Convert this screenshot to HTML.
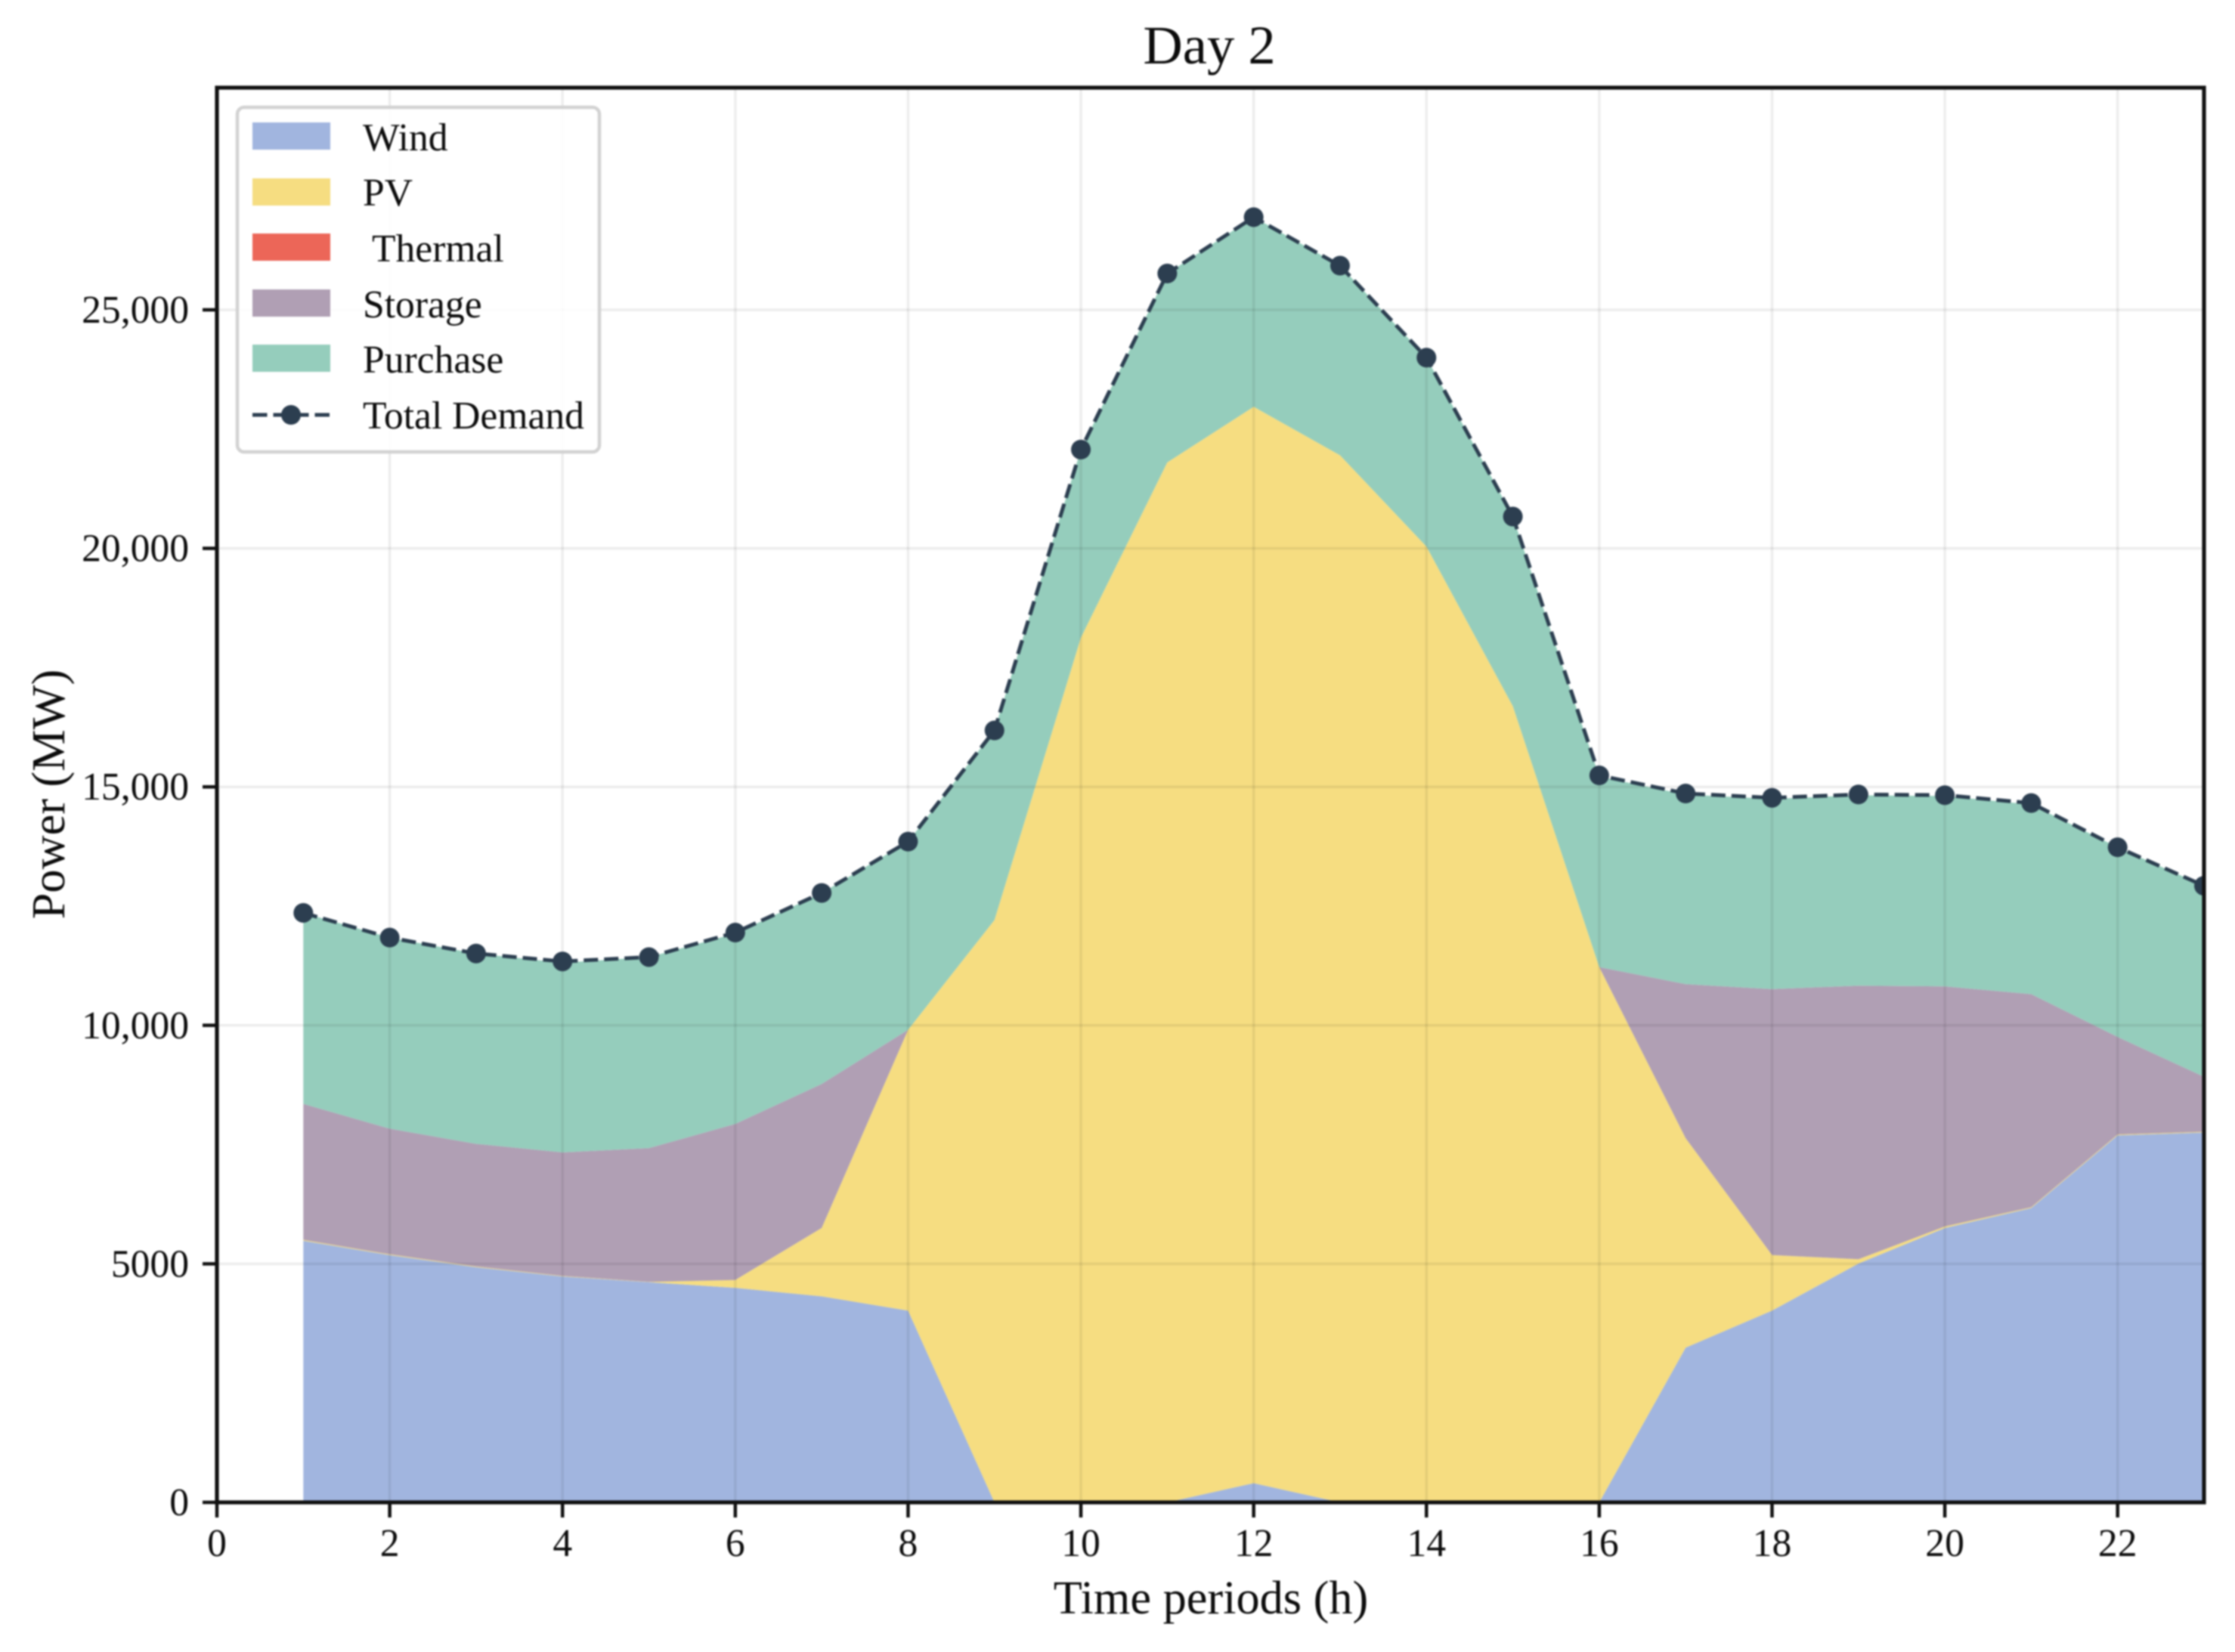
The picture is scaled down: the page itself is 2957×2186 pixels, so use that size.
<!DOCTYPE html>
<html lang="en">
<head>
<meta charset="utf-8">
<title>Day 2</title>
<style>
html,body{margin:0;padding:0;background:#fff;}
svg{display:block;filter:blur(1px);}
text{font-family:"Liberation Serif","Times New Roman",serif;fill:#0c0c0c;white-space:pre;}
</style>
</head>
<body>
<svg id="chart" xmlns="http://www.w3.org/2000/svg" width="2957" height="2186" viewBox="0 0 2957 2186">
<defs><clipPath id="plot-clip"><rect x="287" y="116" width="2629" height="1872"/></clipPath></defs>
<rect x="0" y="0" width="2957" height="2186" fill="#ffffff"/>
<g id="bands" clip-path="url(#plot-clip)"></g>
<g id="grid"></g>
<g id="demand" clip-path="url(#plot-clip)"></g>
<g id="ticks"></g>
<rect x="287" y="116" width="2629" height="1872" fill="none" stroke="#111111" stroke-width="5.2"/>
<text x="1600" y="84" font-size="72.5" text-anchor="middle">Day 2</text>
<text x="1602" y="2135" font-size="62.3" text-anchor="middle">Time periods (h)</text>
<text x="0" y="0" font-size="62.3" text-anchor="middle" transform="translate(85 1051) rotate(-90)">Power (MW)</text>
<g>
<rect x="314" y="142" width="479" height="456" rx="9" fill="#ffffff" fill-opacity="0.85" stroke="#d2d2d2" stroke-width="4.5"/>
<rect x="334" y="162" width="103" height="36" fill="#a1b5df"/>
<text x="480" y="199" font-size="51.6">Wind</text>
<rect x="334" y="236" width="103" height="36" fill="#f6dd81"/>
<text x="480" y="272" font-size="51.6">PV</text>
<rect x="334" y="309" width="103" height="36" fill="#ec6658"/>
<text x="480" y="346" font-size="51.6"> Thermal</text>
<rect x="334" y="383" width="103" height="36" fill="#b09fb4"/>
<text x="480" y="420" font-size="51.6">Storage</text>
<rect x="334" y="456" width="103" height="36" fill="#95cdbc"/>
<text x="480" y="493" font-size="51.6">Purchase</text>
<line x1="334" y1="549" x2="437" y2="549" stroke="#2c3e50" stroke-width="5" stroke-dasharray="19.5 8"/>
<circle cx="385" cy="549" r="13" fill="#2c3e50"/>
<text x="480" y="567" font-size="51.6">Total Demand</text>
</g>
</svg>
<script>
const hours = [1,2,3,4,5,6,7,8,9,10,11,12,13,14,15,16,17,18,19,20,21,22,23];
const wind = [5484,5185,4930,4737,4617,4498,4318,4020,0,0,0,403,0,0,0,0,3243,4020,5006,5753,6171,7695,7755];
const pv = [20,15,15,10,5,164,1435,5887,12208,18126,21802,22565,21951,20038,16691,11222,4392,1165,90,30,15,15,15];
const thermal = [0,0,0,0,0,0,0,0,0,0,0,0,0,0,0,0,0,0,0,0,0,0,0];
const storage = [2849,2635,2571,2590,2804,3272,3018,0,0,0,0,0,0,0,0,0,3228,5574,5737,5035,4468,2048,1151];
const purchase = [4005,4005,3990,3975,4005,3991,4005,3945,3975,3945,3960,3975,3975,3960,3975,3990,3975,3989,3990,3990,3975,3975,4005];
const demand = [12358,11840,11506,11340,11431,11945,12776,13852,16183,22071,25762,26943,25926,23998,20666,15240,14860,14770,14840,14825,14660,13733,12926];
const xTickValues = [0,2,4,6,8,10,12,14,16,18,20,22];
const xTickLabels = ["0","2","4","6","8","10","12","14","16","18","20","22"];
const yTickValues = [0,5000,10000,15000,20000,25000];
const yTickLabels = ["0","5000","10,000","15,000","20,000","25,000"];
const bandNames = ["wind","pv","thermal","storage","purchase"];
const bandColors = ["#a1b5df","#f6dd81","#ec6658","#b09fb4","#95cdbc"];

const NS = "http://www.w3.org/2000/svg";
function xPos(v){ return 287 + v * (2629 / 23); }
function yPos(v){ return 1988 - v * (315.6 / 5000); }
function make(tag, attrs, parent){
  const el = document.createElementNS(NS, tag);
  for (const k in attrs) el.setAttribute(k, attrs[k]);
  parent.appendChild(el);
  return el;
}

const bandSeries = [wind, pv, thermal, storage, purchase];
const bandsGroup = document.getElementById("bands");
let lower = hours.map(() => 0);
bandSeries.forEach((series, i) => {
  const upper = lower.map((v, j) => v + series[j]);
  const top = hours.map((h, j) => xPos(h).toFixed(1) + "," + yPos(upper[j]).toFixed(1));
  const bottom = hours.map((h, j) => xPos(h).toFixed(1) + "," + yPos(lower[j]).toFixed(1)).reverse();
  const band = make("polygon", { points: top.concat(bottom).join(" "), fill: bandColors[i] }, bandsGroup);
  
  
  lower = upper;
});

const gridGroup = document.getElementById("grid");
const tickGroup = document.getElementById("ticks");
xTickValues.forEach((v, i) => {
  const x = xPos(v);
  const g = make("line", { x1: x, y1: 116, x2: x, y2: 1988, stroke: "#000", "stroke-opacity": 0.07, "stroke-width": 3.5 }, gridGroup);
  
  
  const t = make("line", { x1: x, y1: 1988, x2: x, y2: 2008, stroke: "#111111", "stroke-width": 4.5 }, tickGroup);
  
  
  const label = make("text", { x: x, y: 2059, "font-size": 51.6, "text-anchor": "middle" }, tickGroup);
  label.textContent = xTickLabels[i];
  
  
});
yTickValues.forEach((v, i) => {
  const y = yPos(v);
  const g = make("line", { x1: 287, y1: y, x2: 2916, y2: y, stroke: "#000", "stroke-opacity": 0.07, "stroke-width": 3.5 }, gridGroup);
  
  
  const t = make("line", { x1: 268, y1: y, x2: 287, y2: y, stroke: "#111111", "stroke-width": 4.5 }, tickGroup);
  
  
  const label = make("text", { x: 250, y: y + 17, "font-size": 51.6, "text-anchor": "end" }, tickGroup);
  label.textContent = yTickLabels[i];
  
  
});

const demandGroup = document.getElementById("demand");
const demandPts = hours.map((h, j) => xPos(h).toFixed(1) + "," + yPos(demand[j]).toFixed(1)).join(" ");
const demandLine = make("polyline", { points: demandPts, fill: "none", stroke: "#2c3e50", "stroke-width": 5, "stroke-dasharray": "19 8" }, demandGroup);


hours.forEach((h, j) => {
  const c = make("circle", { cx: xPos(h), cy: yPos(demand[j]), r: 13, fill: "#2c3e50" }, demandGroup);
  
  
});
</script>
</body>
</html>
